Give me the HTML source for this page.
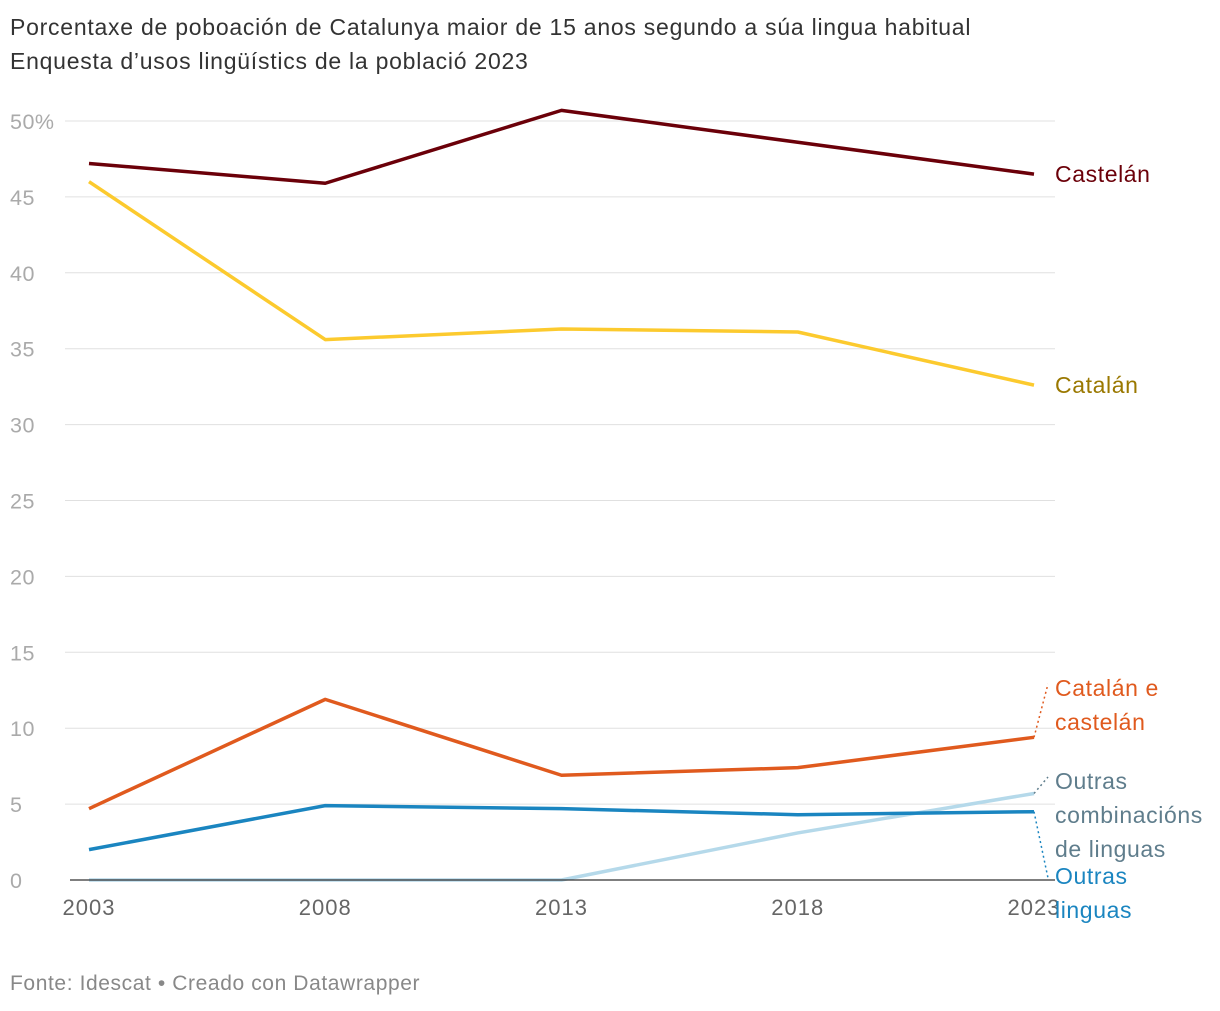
<!DOCTYPE html>
<html><head><meta charset="utf-8"><style>
body{margin:0;background:#fff;font-family:"Liberation Sans",sans-serif;}
svg text{font-family:"Liberation Sans",sans-serif;}
</style></head><body>
<svg id="chart" width="1220" height="1006">
<text x="10" y="35" font-size="23" letter-spacing="0.75" fill="#333">Porcentaxe de poboación de Catalunya maior de 15 anos segundo a súa lingua habitual</text>
<text x="10" y="69" font-size="23" letter-spacing="0.75" fill="#333">Enquesta d’usos lingüístics de la població 2023</text>
<g id="grid"></g><g id="lines"></g><g id="labels"></g>
<text x="10" y="990" font-size="21" letter-spacing="0.6" fill="#888">Fonte: Idescat • Creado con Datawrapper</text>
</svg>
<script>
const years=["2003","2008","2013","2018","2023"];
const yTicks=[0,5,10,15,20,25,30,35,40,45,50];
const castelan=[47.2,45.9,50.7,48.6,46.5];
const catalan=[46.0,35.6,36.3,36.1,32.6];
const catalanCastelan=[4.7,11.9,6.9,7.4,9.4];
const outrasCombinacions=[0,0,0,3.1,5.7];
const outrasLinguas=[2.0,4.9,4.7,4.3,4.5];
const NS="http://www.w3.org/2000/svg";
const x=i=>89+i*(1034-89)/(years.length-1);
const y=v=>880-v*(880-121)/50;
function mk(tag,attrs,parent){const e=document.createElementNS(NS,tag);for(const k in attrs)e.setAttribute(k,attrs[k]);parent.appendChild(e);return e;}
const grid=document.getElementById('grid'),lines=document.getElementById('lines'),labels=document.getElementById('labels');
yTicks.forEach(t=>{
 if(t>0){const g=mk('line',{x1:65,x2:1055,y1:y(t),y2:y(t),stroke:'#e0e0e0','stroke-width':1},grid);
 
 }
 const tx=mk('text',{x:10,y:y(t)+8,'font-size':21.5,fill:'#aaa','letter-spacing':0.5},grid);
 tx.textContent=t===50?'50%':String(t);
 
 
});
years.forEach((yr,i)=>{
 const tx=mk('text',{x:x(i),y:915,'font-size':22,fill:'#666','text-anchor':'middle','letter-spacing':1},grid);
 tx.textContent=yr;
 
 
});
const series=[
 [outrasCombinacions,'#b5d9ea','outras-combinacions-line'],
 [outrasLinguas,'#1a85c0','outras-linguas-line'],
 [catalanCastelan,'#e05a1e','catalan-castelan-line'],
 [catalan,'#fcca2e','catalan-line'],
 [castelan,'#6b0009','castelan-line']];
series.forEach(([d,c,n])=>{
 const p=mk('polyline',{points:d.map((v,i)=>x(i)+','+y(v)).join(' '),fill:'none',stroke:c,'stroke-width':3.5,'stroke-linejoin':'round'},lines);
 
 
});
const base=mk('line',{x1:70,x2:1055,y1:y(0),y2:y(0),stroke:'#333','stroke-width':1.2},lines);


const last=years.length-1;
function lab(lns,ty,c,n,data){
 const t=mk('text',{x:1055,y:ty,'font-size':23,fill:c,'letter-spacing':0.6},labels);
 lns.forEach((l,k)=>{const s=mk('tspan',{x:1055,dy:k?34:0},t);s.textContent=l;});
 
 
 if(data){const l=mk('line',{x1:x(last),y1:y(data[last]),x2:1048,y2:ty-12,stroke:c,'stroke-width':1.5,'stroke-dasharray':'2,3'},labels);
 
 }
}
lab(['Castelán'],y(castelan[last])+8,'#6b0009','castelan-label');
lab(['Catalán'],y(catalan[last])+8,'#9a7800','catalan-label');
lab(['Catalán e','castelán'],696,'#e05a1e','catalan-castelan-label',catalanCastelan);
lab(['Outras','combinacións','de linguas'],789,'#5f7d8c','outras-combinacions-label',outrasCombinacions);
lab(['Outras','linguas'],884,'#1a85c0','outras-linguas-label',null);
const l=mk('line',{x1:x(last),y1:y(outrasLinguas[last]),x2:1048,y2:878,stroke:'#1a85c0','stroke-width':1.5,'stroke-dasharray':'2,3'},labels);


</script>
</body></html>
